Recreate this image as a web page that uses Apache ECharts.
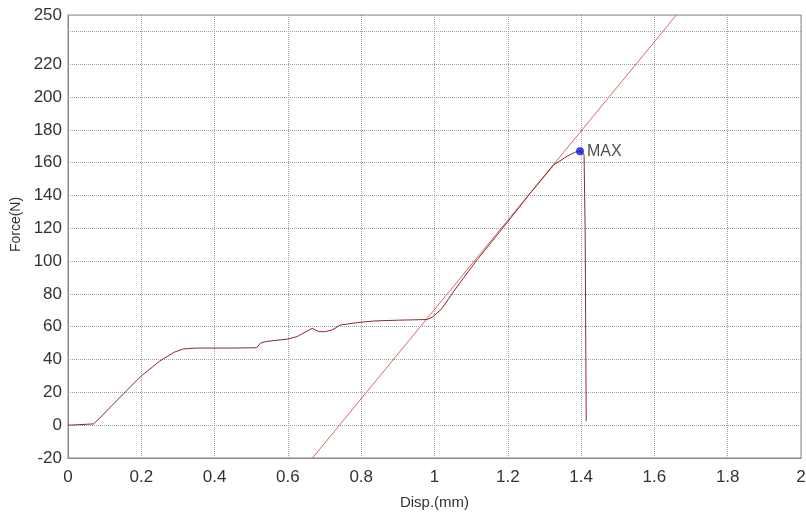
<!DOCTYPE html>
<html><head><meta charset="utf-8">
<script src="https://cdn.jsdelivr.net/npm/echarts@6/dist/echarts.min.js"></script>
<style>html,body{margin:0;padding:0;background:#fff}#c{width:806px;height:512px}</style>
</head><body><div id="c"></div>
<script>
var curveDisp = [0,0.03,0.07,0.087,0.12,0.16,0.2,0.25,0.29,0.315,0.35,0.45,0.515,0.525,0.54,0.6,0.625,0.666,0.685,0.702,0.72,0.743,0.789,0.834,0.9,0.98,0.995,1.02,1.053,1.08,1.117,1.2,1.26,1.326,1.362,1.385,1.397,1.408,1.411,1.413,1.414];
var curveForce = [0,0.3,0.8,4.4,12,21,30,39,44.5,46.5,47,47,47.2,50,51,52.5,54,59,57,57,58,61,62.5,63.5,64,64.4,66,71,81.7,90,101,124,141,158.8,163.9,166.5,167,165,120,40,2.5];
var fitDisp = [0.667,1.66];
var fitForce = [-20,250];
var maxPoint = [1.397,167];
var maxLabel = 'MAX';

var curve = curveDisp.map(function(d,i){return [d,curveForce[i]];});
var fit = fitDisp.map(function(d,i){return [d,fitForce[i]];});
var font = '"Liberation Sans", Arial, sans-serif';
var chart = echarts.init(document.getElementById('c'));
chart.setOption({
  animation:false,
  grid:{left:68,right:5,top:15,bottom:54,show:true,borderColor:'#8a8a8a',borderWidth:1,
    containLabel:false,outerBoundsMode:'none'},
  xAxis:{type:'value',min:0,max:2,interval:0.2,
    name:'Disp.(mm)',nameLocation:'middle',nameGap:37,
    nameTextStyle:{fontFamily:font,fontSize:15,color:'#333'},
    axisLine:{onZero:false,lineStyle:{color:'#8a8a8a'}},axisTick:{show:false},
    axisLabel:{fontFamily:font,fontSize:17,color:'#333',margin:11,
      formatter:function(v){return String(Math.round(v*10)/10);}},
    splitLine:{show:true,lineStyle:{type:'dotted',color:'#a0a0a0',width:1}}},
  yAxis:{type:'value',min:-20,max:250,interval:20,
    name:'Force(N)',nameLocation:'middle',nameGap:40,
    nameTextStyle:{fontFamily:font,fontSize:14,color:'#333',padding:[0,0,0,24]},
    axisLine:{show:true,lineStyle:{color:'#8a8a8a'}},axisTick:{show:false},
    axisLabel:{fontFamily:font,fontSize:17,color:'#333',margin:6,
      formatter:function(v){return v===240?'':String(v);}},
    splitLine:{show:true,lineStyle:{type:'dotted',color:'#a0a0a0',width:1}}},
  series:[
    {type:'line',data:fit,symbol:'none',lineStyle:{color:'#d46a6a',width:1},clip:true,z:2},
    {type:'line',data:curve,symbol:'none',lineStyle:{color:'#8a2a2a',width:1},z:3},
    {type:'scatter',data:[maxPoint],symbolSize:8,itemStyle:{color:'#1414e6'},z:4,
      label:{show:true,position:'right',distance:3,formatter:maxLabel,fontFamily:font,fontSize:16,color:'#222'}}
  ]
});
</script></body></html>
